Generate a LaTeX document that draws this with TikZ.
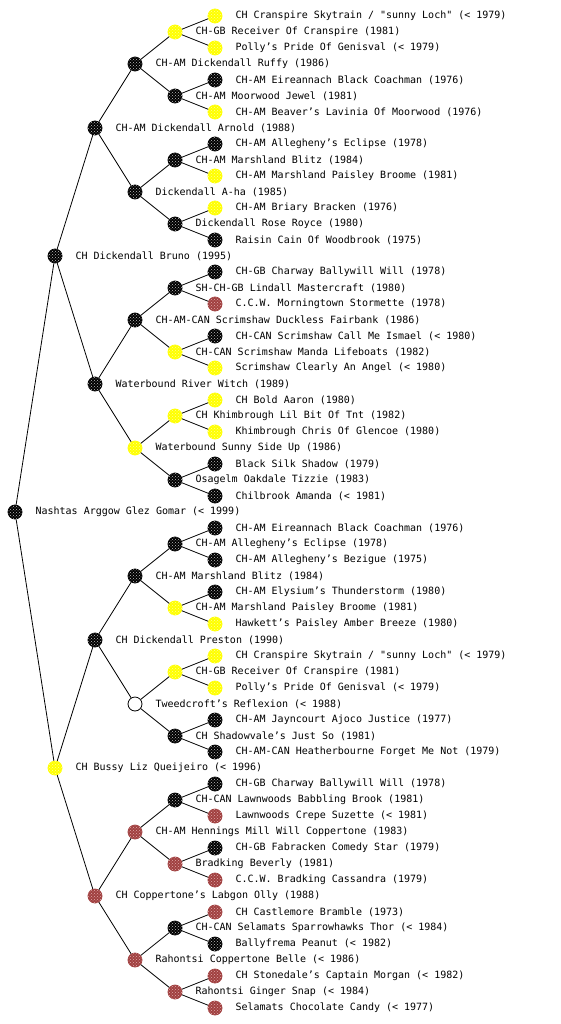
\documentclass[tikz,border=0pt]{standalone}
\usepackage{fontspec}
\setmonofont{DejaVu Sans Mono}
\usepackage{tikz}
\usetikzlibrary{positioning, patterns}
\definecolor{labyellow}{RGB}{255,255,0}
\definecolor{labyellowdot}{RGB}{255,255,150}
\definecolor{labblack}{RGB}{0,0,0}
\definecolor{labblackdot}{RGB}{190,190,190}
\definecolor{labchoc}{RGB}{160,64,64}
\definecolor{labchocdot}{RGB}{225,170,170}

\begin{document}
\begin{tikzpicture}[
  x=1pt, y=-1pt,
  dog/.style={circle, minimum size=14pt, inner sep=0pt, line width=0.8pt},
  coatY/.style={fill=labyellow, draw=labyellow,
    postaction={pattern=crosshatch dots, pattern color=labyellowdot}},
  coatK/.style={fill=labblack, draw=labblack,
    postaction={pattern=crosshatch dots, pattern color=labblackdot}},
  coatR/.style={fill=labchoc, draw=labchoc,
    postaction={pattern=crosshatch dots, pattern color=labchocdot}},
  coatW/.style={fill=white, draw=black},
  dog label/.style={font=\ttfamily\fontsize{10}{12}\selectfont, anchor=west, inner sep=0pt},
  edge/.style={line width=0.8pt},
]
\useasboundingbox (0,0) rectangle (560,1024);

% Dogs, one per row (row / column / coat / name)
\foreach \r/\g/\c/\t in {
  1/5/Y/{CH Cranspire Skytrain / "sunny Loch" (< 1979)},
  2/4/Y/{CH-GB Receiver Of Cranspire (1981)},
  3/5/Y/{Polly’s Pride Of Genisval (< 1979)},
  4/3/K/{CH-AM Dickendall Ruffy (1986)},
  5/5/K/{CH-AM Eireannach Black Coachman (1976)},
  6/4/K/{CH-AM Moorwood Jewel (1981)},
  7/5/Y/{CH-AM Beaver’s Lavinia Of Moorwood (1976)},
  8/2/K/{CH-AM Dickendall Arnold (1988)},
  9/5/K/{CH-AM Allegheny’s Eclipse (1978)},
  10/4/K/{CH-AM Marshland Blitz (1984)},
  11/5/Y/{CH-AM Marshland Paisley Broome (1981)},
  12/3/K/{Dickendall A-ha (1985)},
  13/5/Y/{CH-AM Briary Bracken (1976)},
  14/4/K/{Dickendall Rose Royce (1980)},
  15/5/K/{Raisin Cain Of Woodbrook (1975)},
  16/1/K/{CH Dickendall Bruno (1995)},
  17/5/K/{CH-GB Charway Ballywill Will (1978)},
  18/4/K/{SH-CH-GB Lindall Mastercraft (1980)},
  19/5/R/{C.C.W. Morningtown Stormette (1978)},
  20/3/K/{CH-AM-CAN Scrimshaw Duckless Fairbank (1986)},
  21/5/K/{CH-CAN Scrimshaw Call Me Ismael (< 1980)},
  22/4/Y/{CH-CAN Scrimshaw Manda Lifeboats (1982)},
  23/5/Y/{Scrimshaw Clearly An Angel (< 1980)},
  24/2/K/{Waterbound River Witch (1989)},
  25/5/Y/{CH Bold Aaron (1980)},
  26/4/Y/{CH Khimbrough Lil Bit Of Tnt (1982)},
  27/5/Y/{Khimbrough Chris Of Glencoe (1980)},
  28/3/Y/{Waterbound Sunny Side Up (1986)},
  29/5/K/{Black Silk Shadow (1979)},
  30/4/K/{Osagelm Oakdale Tizzie (1983)},
  31/5/K/{Chilbrook Amanda (< 1981)},
  32/0/K/{Nashtas Arggow Glez Gomar (< 1999)},
  33/5/K/{CH-AM Eireannach Black Coachman (1976)},
  34/4/K/{CH-AM Allegheny’s Eclipse (1978)},
  35/5/K/{CH-AM Allegheny’s Bezigue (1975)},
  36/3/K/{CH-AM Marshland Blitz (1984)},
  37/5/K/{CH-AM Elysium’s Thunderstorm (1980)},
  38/4/Y/{CH-AM Marshland Paisley Broome (1981)},
  39/5/Y/{Hawkett’s Paisley Amber Breeze (1980)},
  40/2/K/{CH Dickendall Preston (1990)},
  41/5/Y/{CH Cranspire Skytrain / "sunny Loch" (< 1979)},
  42/4/Y/{CH-GB Receiver Of Cranspire (1981)},
  43/5/Y/{Polly’s Pride Of Genisval (< 1979)},
  44/3/W/{Tweedcroft’s Reflexion (< 1988)},
  45/5/K/{CH-AM Jayncourt Ajoco Justice (1977)},
  46/4/K/{CH Shadowvale’s Just So (1981)},
  47/5/K/{CH-AM-CAN Heatherbourne Forget Me Not (1979)},
  48/1/Y/{CH Bussy Liz Queijeiro (< 1996)},
  49/5/K/{CH-GB Charway Ballywill Will (1978)},
  50/4/K/{CH-CAN Lawnwoods Babbling Brook (1981)},
  51/5/R/{Lawnwoods Crepe Suzette (< 1981)},
  52/3/R/{CH-AM Hennings Mill Will Coppertone (1983)},
  53/5/K/{CH-GB Fabracken Comedy Star (1979)},
  54/4/R/{Bradking Beverly (1981)},
  55/5/R/{C.C.W. Bradking Cassandra (1979)},
  56/2/R/{CH Coppertone’s Labgon Olly (1988)},
  57/5/R/{CH Castlemore Bramble (1973)},
  58/4/K/{CH-CAN Selamats Sparrowhawks Thor (< 1984)},
  59/5/K/{Ballyfrema Peanut (< 1982)},
  60/3/R/{Rahontsi Coppertone Belle (< 1986)},
  61/5/R/{CH Stonedale’s Captain Morgan (< 1982)},
  62/4/R/{Rahontsi Ginger Snap (< 1984)},
  63/5/R/{Selamats Chocolate Candy (< 1977)}}{
  \node[dog, coat\c] (n\r) at (15+40*\g, 16*\r) {};
  \node[dog label, right=13pt of n\r] (l\r) {\t};
}

% Parent to sire and dam
\foreach \d/\n in {16/1, 8/2, 4/4, 2/8, 1/16}{
  \pgfmathtruncatemacro\last{\n-1}
  \foreach \i in {0,...,\last}{
    \pgfmathtruncatemacro\p{2*\d+4*\d*\i}
    \pgfmathtruncatemacro\lo{\p-\d}
    \pgfmathtruncatemacro\hi{\p+\d}
    \draw[edge] (n\p) -- (n\lo) (n\p) -- (n\hi);
  }
}

\end{tikzpicture}
\end{document}
